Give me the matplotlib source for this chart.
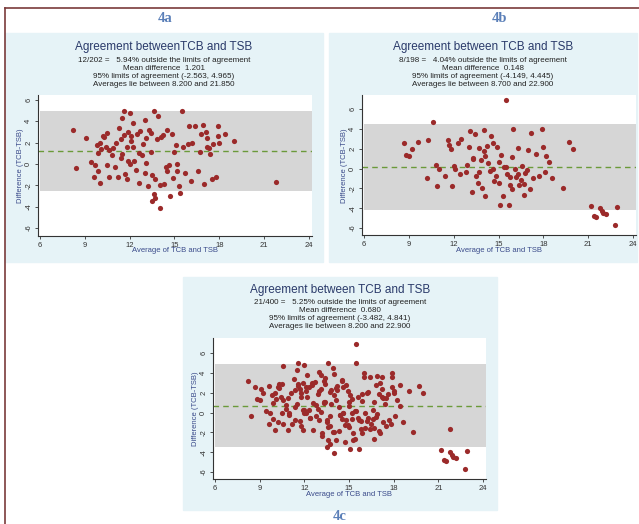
import matplotlib
matplotlib.use("Agg")
import matplotlib.pyplot as plt
from matplotlib.patches import Rectangle
from matplotlib.lines import Line2D
import numpy as np

plt.rcParams['font.family'] = ['Liberation Sans', 'DejaVu Sans']

# Panel 4a points (average, difference)
a_avg = [8.2,8.4,9.1,9.4,9.6,9.7,9.8,9.9,9.9,10.0,10.0,10.1,10.3,10.4,10.5,10.5,10.6,10.6,10.8,10.9,
         11.0,11.1,11.2,11.3,11.4,11.5,11.5,11.6,11.6,11.7,11.8,11.8,11.9,12.0,12.0,12.1,12.2,12.2,12.3,12.4,
         12.5,12.6,12.7,12.8,12.9,13.0,13.0,13.1,13.1,13.2,13.4,13.4,13.5,13.5,13.6,13.6,13.7,13.7,13.8,13.9,
         14.0,14.0,14.1,14.3,14.4,14.5,14.5,14.6,14.7,14.8,14.9,15.0,15.1,15.2,15.3,15.4,15.5,15.6,15.7,15.9,
         16.0,16.2,16.4,16.6,16.7,16.8,16.9,17.0,17.1,17.2,17.3,17.4,17.5,17.6,17.8,17.9,17.9,18.0,18.4,19.0,
         10.2,11.4,12.6,13.3,14.2,15.2,16.1,17.2,12.1,11.9,21.8]
a_diff = [3.2,-0.4,2.4,0.2,-1.2,-0.1,1.8,-0.7,1.0,-1.8,2.0,1.4,2.5,1.6,2.9,-0.1,1.3,-1.2,0.8,1.5,
          -0.3,2.0,-1.2,3.4,2.3,0.9,4.3,5.0,2.7,-0.9,1.6,-1.4,3.0,0.0,4.8,2.2,1.6,3.8,0.3,-0.6,
          2.8,1.0,3.1,0.8,1.9,-0.8,4.1,2.4,0.1,-2.1,1.1,2.9,-1.0,-3.5,5.0,-2.8,-3.2,-1.4,2.3,4.5,
          -4.1,-2.0,2.5,-1.9,-0.3,-0.7,3.2,-0.1,-3.0,2.8,-1.3,1.1,1.8,0.0,-2.1,-2.7,5.0,1.6,-0.8,1.9,
          3.6,2.0,3.6,-0.7,1.1,2.8,3.7,-1.9,3.0,2.4,1.5,0.9,-1.4,1.9,-1.2,3.6,2.6,2.0,2.8,2.2,
          2.6,0.6,-1.8,3.2,2.7,-0.7,-1.6,1.6,2.6,0.3,-1.7]

# Panel 4b points
b_avg = [8.7,8.8,9.0,9.2,9.6,10.2,10.3,10.6,10.8,10.9,11.0,11.4,11.6,11.7,11.8,11.9,12.0,12.1,12.3,12.4,
         12.5,12.8,12.9,13.0,13.1,13.2,13.3,13.4,13.5,13.6,13.7,13.8,13.9,14.0,14.0,14.1,14.2,14.3,14.4,14.5,
         14.6,14.7,14.8,14.9,15.0,15.1,15.2,15.3,15.4,15.5,15.6,15.7,15.8,15.9,15.9,16.0,16.1,16.2,16.3,16.4,
         16.5,16.6,16.7,16.8,16.9,17.0,17.1,17.2,17.3,17.5,17.7,17.9,18.0,18.1,18.2,18.4,18.6,19.3,19.7,20.0,
         13.3,14.1,15.0,15.8,16.3,16.7,14.6,13.7,15.5,21.2,21.4,21.5,21.8,21.9,22.0,22.2,22.8,22.9]
b_diff = [2.6,1.4,1.3,2.0,2.7,-1.0,2.9,4.7,0.4,-1.8,0.0,-0.8,2.9,2.4,2.0,-1.8,0.3,-0.1,2.6,-0.6,
          3.0,-0.4,0.4,2.2,3.8,-2.4,1.0,3.5,-0.8,-1.5,2.1,0.9,-2.0,3.9,1.8,-2.8,2.3,0.6,-0.3,3.3,
          2.6,-1.3,-0.8,2.2,0.7,-3.7,1.4,-2.8,0.2,6.9,-0.6,-3.7,-1.7,-2.1,1.2,4.0,0.0,-0.9,2.1,-1.7,
          -1.2,0.3,-2.7,-0.5,-0.2,1.9,-2.1,3.6,-1.0,1.5,-0.8,4.0,2.2,-0.4,1.3,0.7,-1.0,-2.0,2.7,2.0,
          1.1,1.3,-1.5,-0.9,-0.6,-1.6,0.0,-0.4,0.2,-3.8,-4.8,-4.9,-4.0,-4.3,-4.5,-4.6,-5.7,-3.9]

panels = [
    dict(label="4a", avg=a_avg, diff=a_diff, title="Agreement betweenTCB and TSB",
         sub=["12/202 =   5.94% outside the limits of agreement", "Mean difference  1.201",
              "95% limits of agreement (-2.563, 4.965)", "Averages lie between 8.200 and 21.850"],
         mean=1.201, lo=-2.563, hi=4.965, bg=(5, 33, 323, 262), px=(40, 309, 100, 228), lab=(165, 18),
         ytop=6.45, ty=47),
    dict(label="4b", avg=b_avg, diff=b_diff, title="Agreement between TCB and TSB",
         sub=["8/198 =   4.04% outside the limits of agreement", "Mean difference  0.148",
              "95% limits of agreement (-4.149, 4.445)", "Averages lie between 8.700 and 22.900"],
         mean=0.148, lo=-4.149, hi=4.445, bg=(329, 33, 637, 262), px=(364, 633, 109, 228), lab=(500, 18),
         ytop=7.4, ty=47),
    dict(label="4c", avg=a_avg + b_avg, diff=a_diff + b_diff, title="Agreement between TCB and TSB",
         sub=["21/400 =   5.25% outside the limits of agreement", "Mean difference  0.680",
              "95% limits of agreement (-3.482, 4.841)", "Averages lie between 8.200 and 22.900"],
         mean=0.680, lo=-3.482, hi=4.841, bg=(183, 277, 497, 510), px=(215, 483, 353, 472), lab=(340, 517),
         ytop=7.5, ty=290),
]

W, H = 639, 524
fig = plt.figure(figsize=(W / 100, H / 100), dpi=100)
fig.patch.set_facecolor("white")
bgax = fig.add_axes([0, 0, 1, 1])
bgax.set_xlim(0, W); bgax.set_ylim(H, 0); bgax.axis("off")
bgax.add_line(Line2D([5, W], [8, 8], color="#7a3b3b", lw=1.2))
bgax.add_line(Line2D([5, 5], [8, H], color="#7a3b3b", lw=1.2))

XL = (5.85, 24.2)
YB = -6.75
for p in panels:
    YL = (YB, p["ytop"])
    x0, y0, x1, y1 = p["bg"]
    bgax.add_patch(Rectangle((x0, y0), x1 - x0, y1 - y0, color="#e6f3f7", zorder=0))
    lx, ly = p["lab"]
    bgax.text(lx, ly, p["label"], ha="center", va="center", fontsize=10.5, color="#5a7fb8",
              fontweight="bold", family="Liberation Serif")
    x6, x24, y6, ym6 = p["px"]
    sx = (x24 - x6) / 18.0
    sy = (ym6 - y6) / 12.0
    left = x6 - (6 - XL[0]) * sx
    right = x24 + (XL[1] - 24) * sx
    top = y6 - (YL[1] - 6) * sy
    bot = ym6 + (-6 - YL[0]) * sy
    ax = fig.add_axes([left / W, 1 - bot / H, (right - left) / W, (bot - top) / H])
    ax.set_facecolor("white")
    ax.set_xlim(*XL); ax.set_ylim(*YL)
    ax.axhspan(p["lo"], p["hi"], xmin=(6 - XL[0]) / (XL[1] - XL[0]), xmax=1.0, color="#d6d6d6", zorder=1, lw=0)
    ax.axhline(p["mean"], color="#6b9a3a", ls=(0, (4, 3)), lw=1.0, zorder=2)
    ax.scatter(p["avg"], p["diff"], s=14, color="#9b2a2a", zorder=3, lw=0)
    for s in ["top", "right"]:
        ax.spines[s].set_visible(False)
    for s in ["left", "bottom"]:
        ax.spines[s].set_color("#333333"); ax.spines[s].set_linewidth(0.8)
    ax.set_xticks([6, 9, 12, 15, 18, 21, 24])
    ax.set_yticks([-6, -4, -2, 0, 2, 4, 6])
    ax.set_yticklabels(["-6", "-4", "-2", "0", "2", "4", "6"], rotation=90, va="center")
    ax.tick_params(labelsize=5.5, length=2.5, width=0.6, pad=1.5, colors="#333333")
    ax.set_xlabel("Average of TCB and TSB", fontsize=5.5, color="#3a4a8a", labelpad=-1)
    ax.set_ylabel("Difference (TCB-TSB)", fontsize=5.5, color="#3a4a8a", labelpad=1)
    cx = (x0 + x1) / 2
    ty = p["ty"]
    bgax.text(cx, ty, p["title"], ha="center", va="center", fontsize=8.5, color="#2a3a6a")
    for i, line in enumerate(p["sub"]):
        bgax.text(cx, ty + 13 + i * 8, line, ha="center", va="center", fontsize=5.8, color="#222222")

fig.savefig("out.png", dpi=100)
